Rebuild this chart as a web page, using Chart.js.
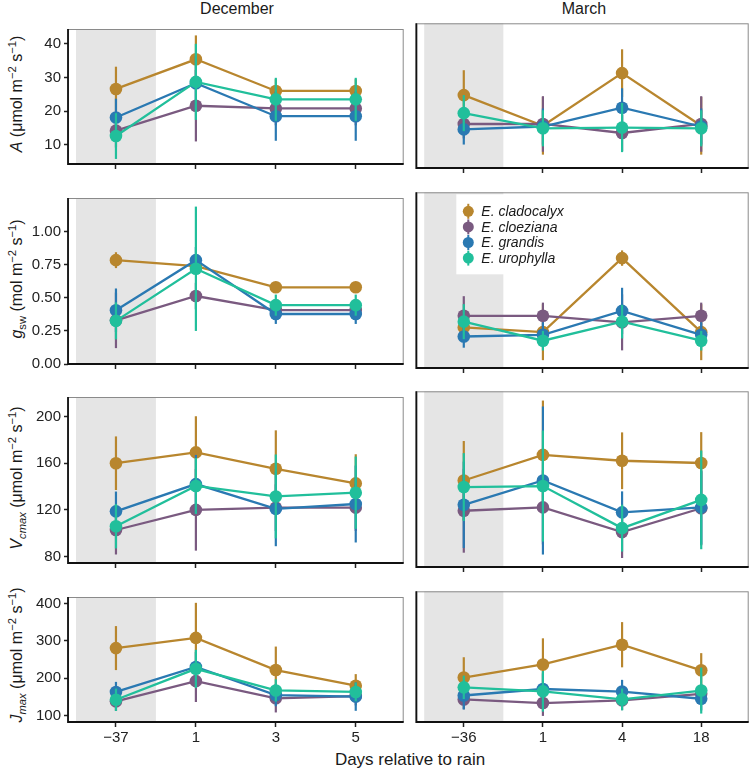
<!DOCTYPE html>
<html lang="en">
<head>
<meta charset="UTF-8">
<title>Gas exchange after rain</title>
<script src="https://cdn.jsdelivr.net/npm/chart.js"></script>
<style>
  body { margin: 0; background: #fff; font-family: 'Liberation Sans', Arial, sans-serif; color: #1a1a1a; }
  #wrap { position: relative; width: 755px; height: 772px; overflow: hidden; }
  canvas { position: absolute; }
  .lab { position: absolute; white-space: nowrap; transform: translate(-50%, -50%); font-size: 16px; }
  .ytitle { position: absolute; white-space: nowrap; transform: translate(-50%, -50%) rotate(-90deg); font-size: 16px; }
  sup, sub { font-size: 0.7em; line-height: 0; }
</style>
</head>
<body>
<div id="wrap">
  <div class="lab" style="left:237px;top:9px;">December</div>
  <div class="lab" style="left:584px;top:9px;">March</div>
  <div class="lab" style="left:410px;top:760px;font-size:17px;">Days relative to rain</div>
  <div class="ytitle" style="left:17px;top:94px;"><i>A</i> (μmol m<sup>−2</sup> s<sup>−1</sup>)</div>
  <div class="ytitle" style="left:17px;top:279px;"><i>g</i><sub>sw</sub> (mol m<sup>−2</sup> s<sup>−1</sup>)</div>
  <div class="ytitle" style="left:17px;top:478px;"><i>V</i><sub><i>cmax</i></sub> (μmol m<sup>−2</sup> s<sup>−1</sup>)</div>
  <div class="ytitle" style="left:17px;top:655px;"><i>J</i><sub><i>max</i></sub> (μmol m<sup>−2</sup> s<sup>−1</sup>)</div>
</div>

<script>
// species order: cladocalyx, cloeziana, grandis, urophylla
const species = ['E. cladocalyx', 'E. cloeziana', 'E. grandis', 'E. urophylla'];
const colors = ['#b8862e', '#7a5a80', '#2a79b2', '#21bf9b'];
const decDays = ['−37', '1', '3', '5'];
const marDays = ['−36', '1', '4', '18'];

// A  (one row per species, one column per day)
const decA    = [[26.6, 35.4, 26.0, 26.0], [14.2, 21.6, 20.8, 20.8], [18.1, 28.3, 18.5, 18.5], [12.6, 28.7, 23.5, 23.5]];
const decAErr = [[6.6, 7.1, 3.5, 3.5], [5.0, 10.6, 5.0, 5.0], [5.6, 8.0, 7.3, 7.3], [6.8, 11.3, 6.4, 6.4]];
const marA    = [[24.5, 16.0, 30.6, 16.0], [16.5, 16.5, 14.0, 16.5], [15.0, 15.8, 21.0, 15.8], [19.5, 15.3, 15.5, 15.3]];
const marAErr = [[6.9, 8.0, 6.6, 8.0], [4.0, 7.7, 5.0, 7.7], [4.2, 5.0, 5.4, 5.0], [5.0, 5.0, 6.8, 5.0]];

// gsw
const decG    = [[0.785, 0.74, 0.58, 0.58], [0.33, 0.514, 0.408, 0.408], [0.406, 0.785, 0.378, 0.378], [0.326, 0.72, 0.445, 0.445]];
const decGErr = [[0.06, 0.05, 0.03, 0.03], [0.21, 0.1, 0.05, 0.05], [0.165, 0.1, 0.075, 0.075], [0.14, 0.47, 0.08, 0.08]];
const marG    = [[0.29, 0.256, 0.785, 0.256], [0.373, 0.373, 0.326, 0.373], [0.225, 0.237, 0.408, 0.237], [0.331, 0.195, 0.331, 0.195]];
const marGErr = [[0.05, 0.2, 0.055, 0.2], [0.14, 0.094, 0.2, 0.094], [0.08, 0.09, 0.165, 0.09], [0.125, 0.07, 0.12, 0.07]];

// Vcmax
const decV    = [[160, 169.3, 155.2, 142.7], [102.7, 120, 121.9, 121.9], [118.7, 142.1, 120.8, 125], [105.9, 140.5, 131.5, 134.7]];
const decVErr = [[23, 31, 33, 25], [21, 35, 20, 20], [17, 25, 32, 33], [19, 24, 36, 31]];
const marV    = [[144.5, 165.3, 160.5, 158.7], [120, 122.7, 102.7, 122], [124.8, 144.5, 118.7, 122.7], [139.2, 140, 105.9, 128.8]];
const marVErr = [[32, 44, 23, 25], [34, 30, 21, 30], [35, 60, 17, 30], [27.5, 45, 19, 40]];

// Jmax
const decJ    = [[280.6, 308, 221.7, 179.8], [137.8, 192, 146, 152], [163, 230, 154.7, 150.4], [142, 225, 167, 163]];
const decJErr = [[59, 94, 63, 31], [25, 56, 38, 25], [27, 40, 30, 38], [30, 51, 30, 25]];
const marJ    = [[196.5, 230, 280.6, 215], [140.3, 131, 137.8, 154.7], [150.4, 167, 160.5, 142], [171.3, 161, 140.3, 163]];
const marJErr = [[52, 67, 58, 44], [25, 33, 25, 25], [36, 40, 30, 30], [30, 52, 28, 59]];

// y axis ticks per row
const aTicks = [10, 20, 30, 40];
const gTicks = [0, 0.25, 0.5, 0.75, 1.0];
const vTicks = [80, 120, 160, 200];
const jTicks = [100, 200, 300, 400];

Chart.defaults.font.family = "'Liberation Sans', Arial, sans-serif";

const rows = [
  { top: 21,  bottom: 168, min: 4.3,  max: 44.4,  ticks: aTicks, dp: 0, dec: [decA, decAErr], mar: [marA, marAErr] },
  { top: 190, bottom: 368, min: 0,    max: 1.255, ticks: gTicks, dp: 2, dec: [decG, decGErr], mar: [marG, marGErr] },
  { top: 389, bottom: 567, min: 74.4, max: 216.8, ticks: vTicks, dp: 0, dec: [decV, decVErr], mar: [marV, marVErr] },
  { top: 589, bottom: 722, min: 82.4, max: 417.6, ticks: jTicks, dp: 0, dec: [decJ, decJErr], mar: [marJ, marJErr] }
];

// grey "before rain" band, error bars, panel frame
const panelPlugin = {
  id: 'panelBits',
  beforeDatasetsDraw(chart) {
    const { ctx, chartArea: a, scales } = chart;
    const x0 = scales.x.getPixelForValue(-0.5), x1 = scales.x.getPixelForValue(0.5);
    ctx.save();
    ctx.fillStyle = '#e5e5e5';
    ctx.fillRect(x0, a.top, x1 - x0, a.bottom - a.top);
    ctx.restore();
  },
  beforeDatasetDraw(chart, args) {
    const ds = chart.data.datasets[args.index];
    const { ctx, scales } = chart;
    ctx.save();
    ctx.strokeStyle = ds.borderColor;
    ctx.lineWidth = 2.2;
    ds.data.forEach((p, i) => {
      const e = ds.err[i];
      const px = scales.x.getPixelForValue(p.x);
      ctx.beginPath();
      ctx.moveTo(px, scales.y.getPixelForValue(p.y - e));
      ctx.lineTo(px, scales.y.getPixelForValue(p.y + e));
      ctx.stroke();
    });
    ctx.restore();
  },
  afterDraw(chart) {
    const { ctx, chartArea: a } = chart;
    ctx.save();
    ctx.strokeStyle = '#8a8a8a';
    ctx.lineWidth = 1;
    ctx.strokeRect(a.left + 0.5, a.top + 0.5, a.right - a.left - 1, a.bottom - a.top - 1);
    ctx.strokeStyle = '#111';
    ctx.lineWidth = 1.8;
    ctx.beginPath();
    ctx.moveTo(a.left, a.top);
    ctx.lineTo(a.left, a.bottom);
    ctx.lineTo(a.right, a.bottom);
    ctx.stroke();
    ctx.restore();
  }
};

// legend inside the March g_sw panel
const legendPlugin = {
  id: 'speciesLegend',
  beforeDraw(chart) {},
  afterDatasetsDraw(chart) {
    const { ctx, chartArea: a } = chart;
    const bx = a.left + 40, by = a.top + 2;
    ctx.save();
    ctx.fillStyle = '#fff';
    ctx.fillRect(bx, by, 115, 80);
    species.forEach((s, i) => {
      const y = by + 17 + i * 15.6;
      const kx = bx + 12;
      ctx.strokeStyle = colors[i];
      ctx.lineWidth = 2;
      ctx.beginPath();
      ctx.moveTo(kx, y - 7.5);
      ctx.lineTo(kx, y + 7.5);
      ctx.stroke();
      ctx.fillStyle = colors[i];
      ctx.beginPath();
      ctx.arc(kx, y, 5.5, 0, Math.PI * 2);
      ctx.fill();
      ctx.fillStyle = '#1a1a1a';
      ctx.font = "italic 14px 'Liberation Sans', Arial, sans-serif";
      ctx.textBaseline = 'middle';
      ctx.fillText(s, bx + 25, y + 1);
    });
    ctx.restore();
  }
};

const wrap = document.getElementById('wrap');

function drawPanel(r, col) {
  const row = rows[r];
  const last = r === rows.length - 1;
  const xh = last ? 30 : 8;
  const h = row.bottom - row.top;
  const canvas = document.createElement('canvas');
  const w = col === 0 ? 410 : 345;
  canvas.width = w;
  canvas.height = 4 + h + xh;
  canvas.style.left = (col === 0 ? 0 : 410) + 'px';
  canvas.style.top = (row.top - 4) + 'px';
  canvas.style.width = w + 'px';
  canvas.style.height = canvas.height + 'px';
  wrap.appendChild(canvas);

  const [vals, errs] = col === 0 ? row.dec : row.mar;
  const days = col === 0 ? decDays : marDays;

  const datasets = species.map((s, i) => ({
    label: s,
    data: vals[i].map((v, j) => ({ x: j, y: v })),
    err: errs[i],
    borderColor: colors[i],
    backgroundColor: colors[i],
    pointBackgroundColor: colors[i],
    pointBorderWidth: 0,
    pointRadius: 6.3,
    borderWidth: 2.3,
    tension: 0,
    order: species.length - i
  }));

  const plugins = [panelPlugin];
  if (r === 1 && col === 1) plugins.push(legendPlugin);

  const yScale = {
    display: col === 0,
    min: row.min,
    max: row.max,
    afterBuildTicks: (sc) => { sc.ticks = row.ticks.map(v => ({ value: v })); },
    grid: { drawOnChartArea: false, drawTicks: true, tickLength: 4, tickWidth: 1.5, tickColor: '#222' },
    border: { display: false },
    ticks: {
      padding: 3,
      color: '#222',
      font: { size: 15 },
      callback: (v) => Number(v).toFixed(row.dp)
    }
  };
  if (col === 0) yScale.afterFit = (sc) => { sc.width = 68; };

  new Chart(canvas, {
    type: 'line',
    data: { datasets: datasets },
    plugins: plugins,
    options: {
      responsive: false,
      animation: false,
      devicePixelRatio: 1,
      events: [],
      layout: { padding: { top: 4, bottom: 0, left: col === 0 ? 0 : 5, right: col === 0 ? 3 : 2 } },
      plugins: { legend: { display: false }, tooltip: { enabled: false } },
      scales: {
        x: {
          type: 'linear',
          min: -0.6,
          max: 3.6,
          afterBuildTicks: (sc) => { sc.ticks = [0, 1, 2, 3].map(v => ({ value: v })); },
          afterFit: (sc) => { sc.height = xh; },
          grid: { drawOnChartArea: false, drawTicks: true, tickLength: 5, tickWidth: 1.5, tickColor: '#222' },
          border: { display: false },
          ticks: {
            display: last,
            autoSkip: false,
            maxRotation: 0,
            padding: 2,
            color: '#222',
            font: { size: 15 },
            callback: (v) => days[v]
          }
        },
        y: yScale
      }
    }
  });
}

for (let r = 0; r < rows.length; r++) {
  drawPanel(r, 0);
  drawPanel(r, 1);
}
</script>
</body>
</html>
